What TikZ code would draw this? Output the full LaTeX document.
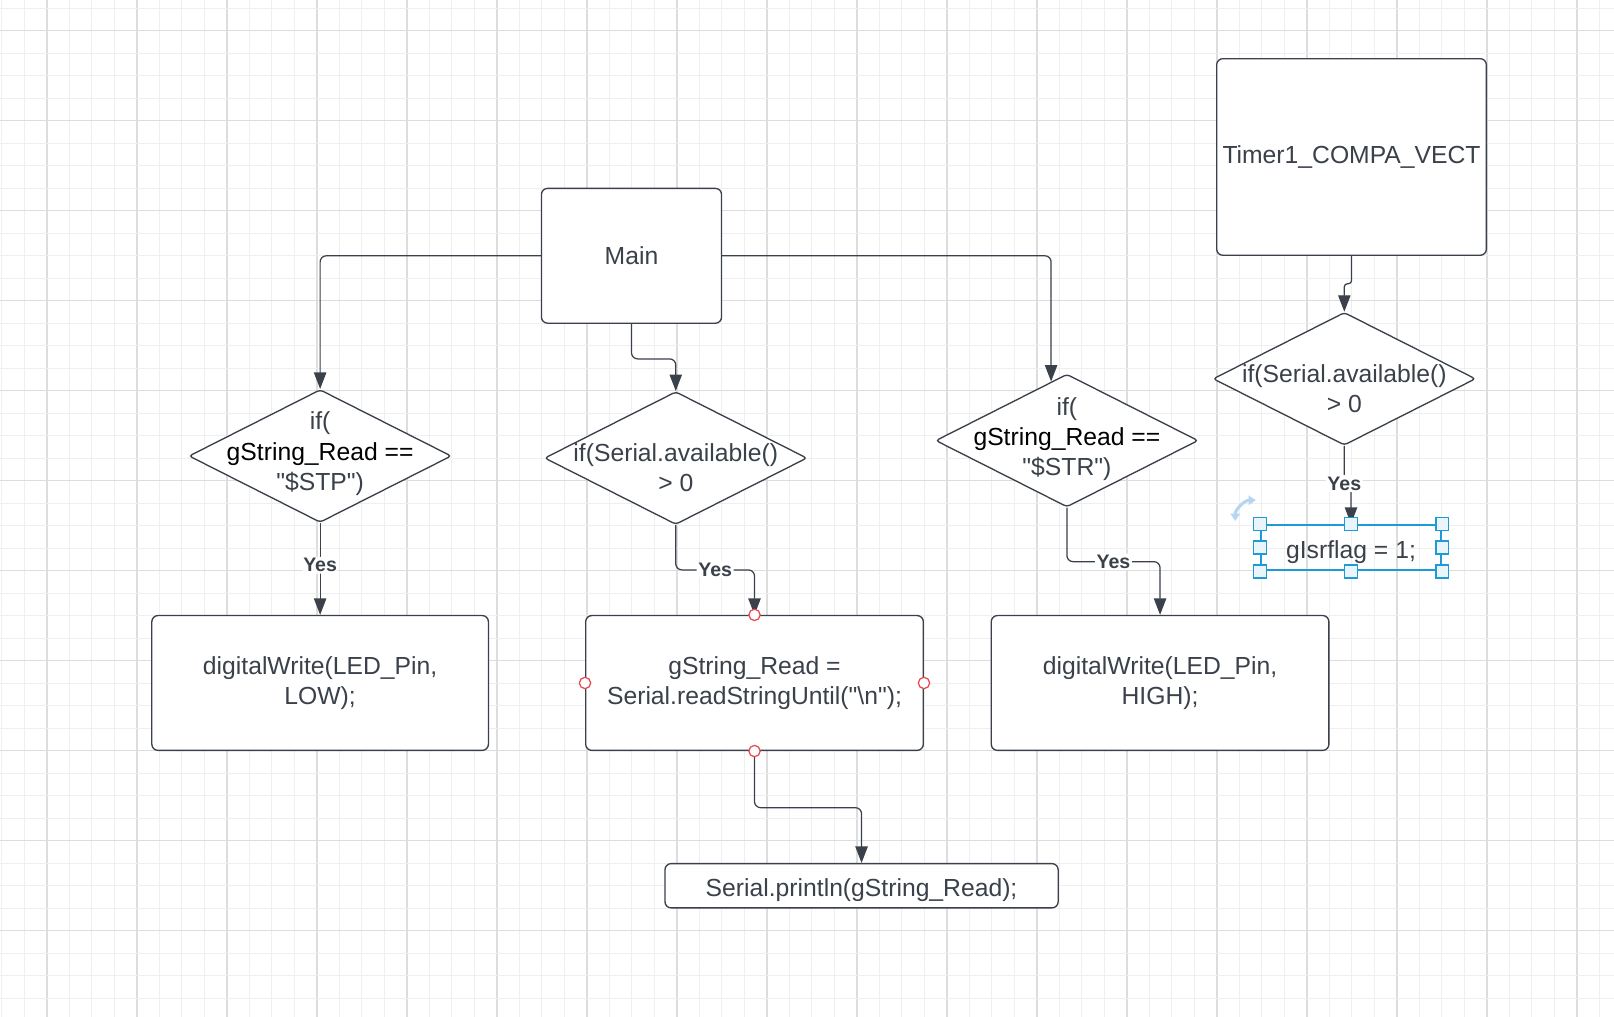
\documentclass[tikz,border=0pt]{standalone}
\usepackage{fontspec}
\setmainfont{Liberation Sans}[Ligatures=TeXOff]
\usetikzlibrary{shapes.geometric, arrows.meta}
\definecolor{ink}{HTML}{3A414A}
\definecolor{gridA}{HTML}{EFEFEF}
\definecolor{gridC}{HTML}{DDDDDD}
\definecolor{portred}{HTML}{E5484D}
\definecolor{selblue}{HTML}{1E9BD7}
\definecolor{handlefill}{HTML}{EAF5FB}
\definecolor{turnblue}{HTML}{B5D6F2}

\begin{document}
\begin{tikzpicture}
[x=1pt, y=1pt,
 every node/.style={inner sep=0pt, font=\fontsize{24pt}{29.5pt}\selectfont, text=ink},
 box/.style={rectangle, rounded corners=6pt, fill=white, line width=1.3pt, draw=ink, align=center},
 sunk/.style={text height=24pt, text depth=3.5pt},
 decision/.style={diamond, rounded corners=3pt, minimum width=255pt, minimum height=129pt, fill=white, line width=1.3pt, draw=ink},
 dtext/.style={align=center},
 yes/.style={fill=white, inner sep=1.5pt, font=\fontsize{19pt}{21pt}\selectfont\bfseries},
 flow/.style={line width=1.2pt, draw=ink, rounded corners=6pt, -{Triangle[length=16pt, width=12pt]}},
 port/.style={circle, minimum size=11pt, fill=white, line width=1.2pt, draw=portred},
 handle/.style={rectangle, minimum size=12.5pt, fill=handlefill, line width=1.6pt, draw=selblue},
 turn/.style={line width=3pt, draw=turnblue, {Triangle[length=7pt, width=9pt]}-{Triangle[length=7pt, width=9pt]}},
 gridminor/.style={line width=1.2pt, color=gridA},
 gridmajor/.style={line width=1.5pt, color=gridC}]

% canvas grid
\fill [white] (0,0) rectangle (1568,-988);
\useasboundingbox (0,0) rectangle (1568,-988);
\foreach \i in {0,...,71} \draw [gridminor] ({1.68+21.86*\i},0) -- ++(0,-988);
\foreach \i in {2,6,...,70} \draw [gridmajor] ({1.68+21.86*\i},0) -- ++(0,-988);
\foreach \j in {0,...,44} \draw [gridminor] (0,{-7.94-21.86*\j}) -- ++(1568,0);
\foreach \j in {1,5,...,41} \draw [gridmajor, line width=1pt] (0,{-7.94-21.86*\j}) -- ++(1568,0);

% blocks
\node (main) [box, minimum width=175pt, minimum height=131pt] at (613.5pt, -248.5pt) {Main};
\node (timer) [box, minimum width=262pt, minimum height=191pt] at (1313pt, -152.5pt) {Timer1\_COMPA\_VECT};

\node (d1) [decision] at (311pt, -443pt) {};
\node (d1txt) [dtext] at (311pt, -441pt) {if(\\ \textcolor{black}{gString\_Read ==}\\ "\$STP")};
\node (d2) [decision] at (656.5pt, -445pt) {};
\node (d2txt) [dtext] at (656.5pt, -454.5pt) {if(Serial.available()\\ > 0};
\node (d3) [decision] at (1036.5pt, -428pt) {};
\node (d3txt) [dtext] at (1036.5pt, -426.5pt) {if(\\ \textcolor{black}{gString\_Read ==}\\ "\$STR")};
\node (d4) [decision] at (1306pt, -368pt) {};
\node (d4txt) [dtext] at (1306pt, -377.5pt) {if(Serial.available()\\ > 0};

\node (low) [box, minimum width=327pt, minimum height=131pt] at (311pt, -663.5pt) {digitalWrite(LED\_Pin,\\ LOW);};
\node (read) [box, minimum width=328pt, minimum height=131pt] at (733pt, -663.5pt) {gString\_Read =\\ Serial.readStringUntil("\textbackslash n");};
\node (high) [box, minimum width=328pt, minimum height=131pt] at (1127pt, -663.5pt) {digitalWrite(LED\_Pin,\\ HIGH);};
\node (print) [box, sunk, minimum width=382pt, minimum height=43pt] at (837pt, -860.5pt) {Serial.println(gString\_Read);};
\node (flag) [rectangle, sunk, minimum width=175pt, minimum height=44pt, line width=2pt, draw=selblue] at (1312.5pt, -532pt) {gIsrflag = 1;};

% connectors
\draw [flow] (main.west) -| (d1.north);
\draw [flow] (main.east) -| (d3.105);
\draw [flow] (main.south) -- ++(0pt,-34pt) -| (d2.north);
\draw [flow] (d1.south) -- node [yes, pos=0.46] {Yes} (low.north);
\draw [flow] (d2.south) -- ++(0pt,-43.5pt) -| node [yes, pos=0.25] {Yes} (read.north);
\draw [flow] (d3.south) -- ++(0pt,-52.5pt) -| node [yes, pos=0.25] {Yes} (high.north);
\draw [flow] (read.south) -- ++(0pt,-55pt) -| (print.north);
\draw [flow, rounded corners=3pt] (timer.south) -- ++(0pt,-27pt) -| (d4.north);
\draw [flow, rounded corners=2pt] (d4.south) -- ++(0pt,-36.5pt) node [yes] {Yes} -| (flag.north);

% selection marks
\foreach \a in {north, west, east, south} \node (read-\a) [port] at (read.\a) {};
\foreach \a in {north west, north, north east, west, east, south west, south, south east} \node (flag-\a) [handle] at (flag.\a) {};
\draw [turn] (1200pt,-506pt) arc [start angle=180, end angle=90, radius=20pt];
\end{tikzpicture}
\end{document}
